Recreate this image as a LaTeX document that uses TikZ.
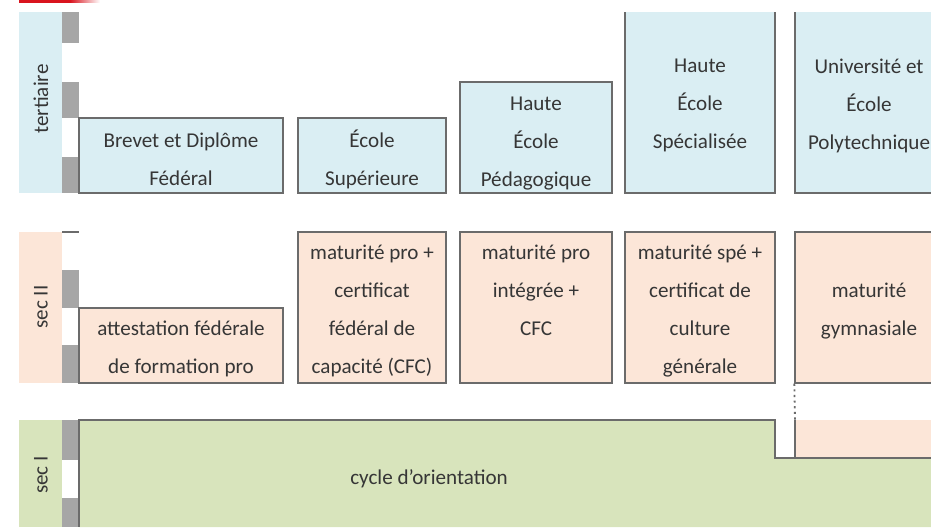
\documentclass[tikz,border=0pt]{standalone}
\usepackage{fontspec}
\setmainfont{Carlito}
\usetikzlibrary{fit}

\definecolor{bleuter}{HTML}{DAEEF3}
\definecolor{peche}{HTML}{FCE6D8}
\definecolor{vertsec}{HTML}{D8E4BC}
\definecolor{barre}{HTML}{A6A6A6}
\definecolor{trait}{HTML}{6B6B6B}
\definecolor{encre}{HTML}{363636}
\definecolor{rouge}{HTML}{D9141E}

\tikzset{
  bloc/.style={draw=trait, line width=1pt, inner sep=0pt},
  ter/.style={bloc, fill=bleuter},
  sec/.style={bloc, fill=peche},
  texte/.style={text=encre, align=center, inner sep=0pt},
  etiq/.style={texte, yshift=-2.5pt},
  niveau/.style={rotate=90, text=encre},
  contour/.style={draw=trait, line width=1pt}
}

\begin{document}
\begin{tikzpicture}[x=0.025cm, y=-0.025cm, font=\fontsize{15}{27}\selectfont]
    \useasboundingbox (0,0) rectangle (931,527);

    % red stripe at the top
    \fill[rouge] (19,0) rectangle (70,2.5);
    \shade[left color=rouge, right color=white] (70,0) rectangle (100,2.5);

    \begin{scope}
    \clip (0,12) rectangle (931,527);

    % level bands
    \fill[bleuter] (19,11) rectangle (62,193);
    \fill[peche] (19,232) rectangle (62,383);
    \fill[vertsec] (19,420) rectangle (62,527);
    \node[niveau] (ter) at (41,99) {tertiaire};
    \node[niveau] (secII) at (41,307) {sec II};
    \node[niveau] (secI) at (41,475) {sec I};

    % year bars
    \foreach \a/\b in {11/43, 82/118, 157/193, 270/308, 345/383, 420/460, 498/527}
        \fill[barre] (62,\a) rectangle (79,\b);
    \draw[contour] (62,232) -- (79,232);

    % sec I
    \fill[vertsec] (79,420) -- (775,420) -- (775,458) -- (931,458) -- (931,527) -- (79,527) -- cycle;
    \fill[peche] (795,420) rectangle (931,458);
    \draw[contour] (79,527) -- (79,420) -- (775,420) -- (775,458) -- (931,458);
    \node[texte] (cycle) at (429,479) {cycle d'orientation};

    % tertiaire
    \node[ter, fit={(79,118) (283,193)}, label={[etiq]center:{Brevet et Diplôme\\Fédéral}}] (brevet) {};
    \node[ter, fit={(298,118) (446,193)}, label={[etiq]center:{École\\Supérieure}}] (es) {};
    \node[ter, fit={(460,82) (612,193)}, label={[etiq, yshift=-2pt]center:{Haute\\École\\Pédagogique}}] (hep) {};
    \node[ter, fit={(625,11) (775,193)}, label={[etiq]center:{Haute\\École\\Spécialisée}}] (hes) {};
    \node[ter, fit={(795,11) (943,193)}, label={[etiq]center:{Université et\\École\\Polytechnique}}] (uni) {};

    % sec II
    \node[sec, fit={(79,308) (283,383)}, label={[etiq]center:{attestation fédérale\\de formation pro}}] (afp) {};
    \node[sec, fit={(298,232) (446,383)}, label={[etiq]center:{maturité pro +\\certificat\\fédéral de\\capacité (CFC)}}] (mpcfc) {};
    \node[sec, fit={(460,232) (612,383)}, label={[texte, yshift=12.4pt]center:{maturité pro\\intégrée +\\CFC}}] (mpi) {};
    \node[sec, fit={(625,232) (775,383)}, label={[etiq]center:{maturité spé +\\certificat de\\culture\\générale}}] (mspe) {};
    \node[sec, fit={(795,232) (943,383)}, label={[etiq]center:{maturité\\gymnasiale}}] (gym) {};

    % gymnase start in sec I
    \coordinate (gymbas) at (795,420);
    \draw[contour, line width=1.3pt, dash pattern=on 1.5pt off 2.5pt] (gym.south west) -- (gymbas);
    \draw[contour] (gymbas) -- (795,458);
    \end{scope}
\end{tikzpicture}
\end{document}
